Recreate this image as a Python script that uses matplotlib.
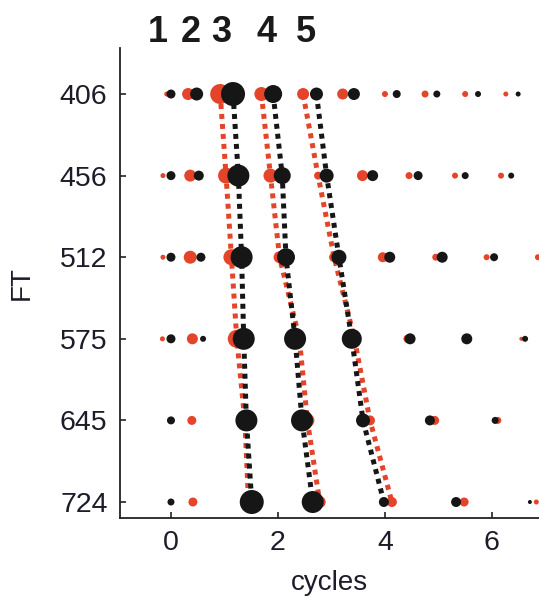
import numpy as np
import matplotlib.pyplot as plt

plt.rcParams['font.family'] = ['Liberation Sans', 'DejaVu Sans']

nan = np.nan

# FT rows, top to bottom
ft_labels = ['406', '456', '512', '575', '645', '724']

# peak positions (cycles) per row, one column per peak
black_x = [
    [0.00, 0.48, 1.16, 1.91, 2.72, 3.42, 4.22, 4.97, 5.74, 6.49],
    [0.00, 0.52, 1.26, 2.08, 2.91, 3.77, 4.62, 5.50, 6.36, nan],
    [0.00, 0.56, 1.32, 2.15, 3.14, 4.09, 5.07, 6.04, nan, nan],
    [0.00, 0.60, 1.36, 2.32, 3.38, 4.47, 5.53, 6.62, nan, nan],
    [0.00, nan, 1.41, 2.45, 3.59, 4.84, 6.06, nan, nan, nan],
    [0.00, nan, 1.51, 2.65, 3.98, 5.33, 6.71, nan, nan, nan],
]
red_x = [
    [-0.08, 0.32, 0.92, 1.69, 2.47, 3.21, 4.00, 4.75, 5.50, 6.26],
    [-0.15, 0.36, 1.03, 1.86, 2.75, 3.58, 4.45, 5.31, 6.17, nan],
    [-0.15, 0.36, 1.13, 2.03, 3.05, 3.96, 4.95, 5.90, 6.86, nan],
    [-0.16, 0.40, 1.23, 2.40, 3.43, 4.42, 5.50, 6.55, nan, nan],
    [nan, 0.39, 1.38, 2.55, 3.72, 4.93, 6.11, nan, nan, nan],
    [nan, 0.41, 1.45, 2.78, 4.13, 5.48, 6.83, nan, nan, nan],
]

# peak strength, drawn as dot diameter
black_w = [
    [9, 13, 24, 18, 13, 12, 8, 7, 6, 5],
    [9, 10, 22, 17, 14, 11, 9, 7, 6, nan],
    [9, 9, 22, 18, 15, 11, 11, 8, nan, nan],
    [9, 6, 22, 22, 20, 11, 11, 6, nan, nan],
    [8, nan, 22, 22, 14, 10, 7, nan, nan, nan],
    [7, nan, 24, 22, 10, 10, 4, nan, nan, nan],
]
red_w = [
    [5, 12, 20, 14, 12, 11, 6, 7, 6, 5],
    [5, 12, 16, 14, 8, 11, 7, 6, 6, nan],
    [5, 13, 16, 12, 10, 10, 7, 6, 6, nan],
    [5, 11, 18, 10, 10, 8, 5, 4, nan, nan],
    [nan, 9, 16, 14, 10, 9, 7, nan, nan, nan],
    [nan, 9, 16, 12, 10, 9, 5, nan, nan, nan],
]

# columns traced across rows (peaks 3, 4, 5)
tracked = [2, 3, 4]
peak_names = ['1', '2', '3', '4', '5']
peak_name_x = [-0.24, 0.37, 0.93, 1.78, 2.52]

RED = '#e4442a'
BLACK = '#161616'
TEXT = '#1c1c2a'
DPI = 100
W, H = 539, 597

fig = plt.figure(figsize=(W / DPI, H / DPI), dpi=DPI)
ax = fig.add_axes([120 / W, 1 - 518 / H, (W - 120) / W, (518 - 48) / H])

rows = np.arange(len(ft_labels))
bx = np.array(black_x)
rx = np.array(red_x)
bw = np.array(black_w)
rw = np.array(red_w)

dash = (0, (1, 1))
for c in tracked:
    ax.plot(rx[:, c], rows, color=RED, lw=3.6, linestyle=dash,
            dash_capstyle='butt', zorder=2)
    ax.plot(bx[:, c], rows, color=BLACK, lw=3.6, linestyle=dash,
            dash_capstyle='butt', zorder=2)

yy = np.repeat(rows[:, None], bx.shape[1], axis=1)
to_s = lambda d: (d * 72 / DPI) ** 2
ax.scatter(rx.ravel(), yy.ravel(), s=to_s(rw.ravel()), color=RED,
           linewidths=0, zorder=3)
ax.scatter(bx.ravel(), yy.ravel(), s=to_s(bw.ravel()), color=BLACK,
           linewidths=0, zorder=4)

ax.set_xlim(-0.953, 6.88)
ax.set_ylim(5.196, -0.564)
ax.set_xticks([0, 2, 4, 6])
ax.set_yticks(rows)
ax.set_yticklabels(ft_labels)

for side in ['top', 'right']:
    ax.spines[side].set_visible(False)
for side in ['left', 'bottom']:
    ax.spines[side].set_linewidth(1.3)
    ax.spines[side].set_color('#222222')
ax.tick_params(direction='in', length=4, width=1.2, colors='#222222',
               labelsize=20.5, labelcolor=TEXT)
ax.tick_params(axis='y', pad=9)
ax.tick_params(axis='x', pad=9)

ax.set_xlabel('cycles', fontsize=20, color=TEXT, labelpad=10)
ax.set_ylabel('FT', fontsize=20, color=TEXT, labelpad=18)

# peak numbers above the top row
trans = ax.get_xaxis_transform()
for name, x in zip(peak_names, peak_name_x):
    ax.text(x, 1 + 6 / (518 - 48), name, transform=trans, ha='center',
            va='baseline', fontsize=26, fontweight='bold', color='#1a1a1a')

fig.savefig('out.png', dpi=DPI)
